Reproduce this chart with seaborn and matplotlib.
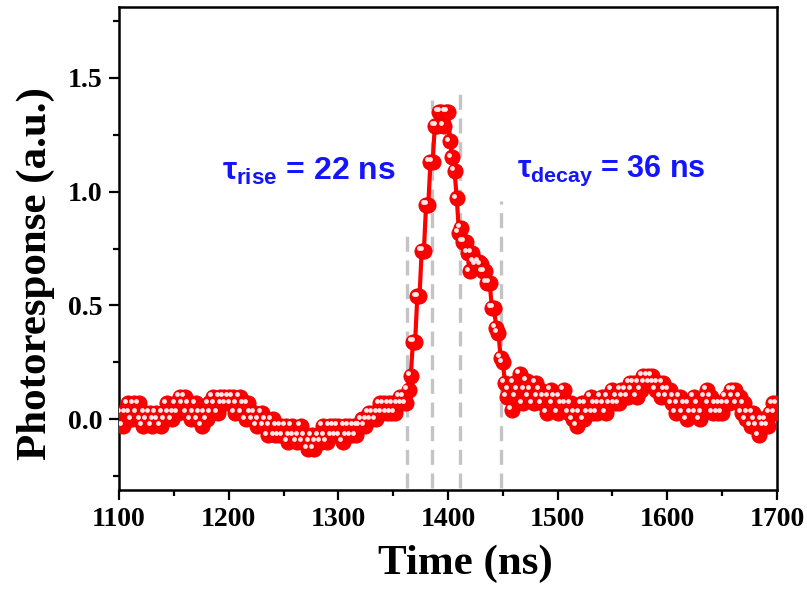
import numpy as np
import pandas as pd
import matplotlib
matplotlib.use("Agg")
import matplotlib.pyplot as plt
from matplotlib.transforms import offset_copy
import seaborn as sns

# Photoresponse trace, sampled every 2 ns; each block covers 50 ns starting at its label
seg_1100 = [0.00, 0.03, -0.03, 0.03, 0.07, 0.03, 0.00, 0.07, 0.03, 0.07, 0.00, -0.03, 0.03,
            0.00, 0.03, -0.03, 0.00, 0.03, 0.00, -0.03, 0.03, 0.00, 0.07, 0.03, 0.00]
seg_1150 = [0.03, 0.07, 0.03, 0.10, 0.07, 0.10, 0.03, 0.07, 0.00, 0.03, 0.07, 0.00, 0.03,
            -0.03, 0.03, 0.00, 0.07, 0.03, 0.10, 0.07, 0.03, 0.10, 0.07, 0.10, 0.07]
seg_1200 = [0.10, 0.07, 0.10, 0.03, 0.07, 0.10, 0.03, 0.07, 0.00, 0.07, 0.03, 0.00, 0.03,
            -0.03, 0.00, 0.03, -0.03, 0.00, -0.07, -0.03, 0.00, -0.07, -0.03, -0.07, -0.03]
seg_1250 = [-0.07, -0.03, -0.10, -0.07, -0.03, -0.07, -0.10, -0.07, -0.03, -0.10, -0.07, -0.13,
            -0.10, -0.07, -0.13, -0.10, -0.07, -0.10, -0.03, -0.07, -0.10, -0.03, -0.07, -0.03, -0.07]
seg_1300 = [-0.03, -0.07, -0.10, -0.03, -0.07, -0.03, -0.07, -0.03, -0.07, -0.03, -0.03, 0.00,
            -0.03, 0.00, 0.03, 0.00, 0.03, 0.00, 0.03, 0.07, 0.03, 0.07, 0.03, 0.07, 0.03]
seg_1350 = [0.07, 0.03, 0.07, 0.10, 0.07, 0.10, 0.07, 0.13, 0.19, 0.34, 0.34, 0.54, 0.54,
            0.74, 0.74, 0.94, 0.94, 1.13, 1.13, 1.29, 1.29, 1.35, 1.35, 1.29, 1.35]
seg_1400 = [1.35, 1.22, 1.15, 1.09, 0.97, 0.82, 0.84, 0.78, 0.78, 0.73, 0.65, 0.73, 0.69,
            0.68, 0.69, 0.68, 0.65, 0.65, 0.60, 0.60, 0.49, 0.49, 0.40, 0.38, 0.27]
seg_1450 = [0.25, 0.16, 0.10, 0.13, 0.04, 0.16, 0.10, 0.13, 0.20, 0.07, 0.13, 0.17, 0.10,
            0.13, 0.07, 0.16, 0.10, 0.13, 0.07, 0.10, 0.03, 0.10, 0.13, 0.07, 0.10]
seg_1500 = [0.03, 0.10, 0.07, 0.13, 0.07, 0.03, 0.07, 0.00, 0.03, -0.03, 0.03, 0.07, 0.00,
            0.07, 0.03, 0.10, 0.03, 0.07, 0.03, 0.07, 0.10, 0.07, 0.03, 0.10, 0.07]
seg_1550 = [0.13, 0.07, 0.10, 0.07, 0.13, 0.10, 0.13, 0.10, 0.16, 0.13, 0.16, 0.10, 0.16,
            0.13, 0.19, 0.16, 0.19, 0.16, 0.19, 0.16, 0.13, 0.16, 0.10, 0.16, 0.13]
seg_1600 = [0.10, 0.13, 0.07, 0.10, 0.03, 0.07, 0.10, 0.03, 0.07, 0.00, 0.07, 0.03, 0.10,
            0.03, 0.07, 0.00, 0.03, 0.10, 0.13, 0.07, 0.10, 0.03, 0.07, 0.03, 0.07]
seg_1650 = [0.03, 0.07, 0.10, 0.07, 0.13, 0.10, 0.13, 0.07, 0.10, 0.03, 0.07, 0.00, 0.03,
            -0.03, 0.03, 0.00, -0.03, -0.07, 0.00, -0.03, 0.00, -0.03, 0.03, 0.07, 0.03]
seg_1700 = [0.07]

segments = {1100: seg_1100, 1150: seg_1150, 1200: seg_1200, 1250: seg_1250,
            1300: seg_1300, 1350: seg_1350, 1400: seg_1400, 1450: seg_1450,
            1500: seg_1500, 1550: seg_1550, 1600: seg_1600, 1650: seg_1650,
            1700: seg_1700}
SAMPLE_NS = 2

# Time markers bounding the rise and decay intervals, with the height each reaches
marker_times = [1363, 1385, 1411, 1448]
marker_tops = [0.82, 1.40, 1.43, 0.96]

rise_label = r"$\tau_{\mathrm{rise}}$ = 22 ns"
decay_label = r"$\tau_{\mathrm{decay}}$ = 36 ns"

x_ticks = [1100, 1200, 1300, 1400, 1500, 1600, 1700]
y_ticks = [0.0, 0.5, 1.0, 1.5]

rows = []
for start, vals in segments.items():
    for i, v in enumerate(vals):
        rows.append((start + SAMPLE_NS * i, v))
df = pd.DataFrame(rows, columns=["time", "resp"])

sns.set_style("ticks")
plt.rcParams["font.family"] = ["Liberation Serif", "DejaVu Serif"]
plt.rcParams["font.weight"] = "bold"
plt.rcParams["text.color"] = "black"
plt.rcParams["axes.labelcolor"] = "black"
plt.rcParams["xtick.color"] = "black"
plt.rcParams["ytick.color"] = "black"
plt.rcParams["mathtext.fontset"] = "custom"
plt.rcParams["mathtext.rm"] = "Liberation Sans:bold"
plt.rcParams["mathtext.it"] = "Liberation Sans:bold"
plt.rcParams["mathtext.bf"] = "Liberation Sans:bold"

fig = plt.figure(figsize=(8.07, 5.90), dpi=100)
ax = fig.add_axes([0.1475, 0.1695, 0.8153, 0.8185])

# vertical dashed guides
for t, top in zip(marker_times, marker_tops):
    ax.plot([t, t], [-0.30, top], color="#c4c4c4", lw=2.4,
            dashes=(4.5, 2.6), zorder=1, solid_capstyle="butt")

red = "#ff0000"
sns.lineplot(data=df, x="time", y="resp", ax=ax, color=red, lw=3.0,
             zorder=2, estimator=None, sort=False)
sns.scatterplot(data=df, x="time", y="resp", ax=ax, color=red, s=120,
                edgecolor="#e80000", linewidth=0.6, zorder=3)
# specular highlight on each sphere
hl = offset_copy(ax.transData, fig=fig, x=-2.2, y=2.0, units="points")
ax.scatter(df["time"], df["resp"], s=12, color="#ffe8e8", linewidths=0,
           transform=hl, zorder=4)

ax.text(1194, 1.09, rise_label, color="#1414ff", fontsize=23,
        ha="left", va="center", family="Liberation Sans", weight="bold")
ax.text(1463, 1.09, decay_label, color="#1414ff", fontsize=22,
        ha="left", va="center", family="Liberation Sans", weight="bold")

ax.set_xlim(1100, 1700)
ax.set_ylim(-0.31, 1.81)
ax.set_xticks(x_ticks)
ax.set_yticks(y_ticks)
ax.set_xticks(np.arange(1150, 1700, 100), minor=True)
ax.set_yticks([-0.25, 0.25, 0.75, 1.25, 1.75], minor=True)
ax.set_xticklabels([str(t) for t in x_ticks])
ax.set_yticklabels([f"{v:.1f}" for v in y_ticks])

ax.tick_params(axis="both", which="major", direction="out", length=7,
               width=1.6, labelsize=20, pad=5)
ax.tick_params(axis="both", which="minor", direction="out", length=4, width=1.6)
for lab in ax.get_xticklabels() + ax.get_yticklabels():
    lab.set_fontweight("bold")
for sp in ax.spines.values():
    sp.set_visible(True)
    sp.set_linewidth(1.8)
    sp.set_color("black")

ax.set_xlabel("Time (ns)", fontsize=31, fontweight="bold")
ax.set_ylabel("Photoresponse (a.u.)", fontsize=31, fontweight="bold")
ax.xaxis.set_label_coords(0.526, -0.112)
ax.yaxis.set_label_coords(-0.097, 0.449)

fig.savefig("out.png", dpi=100)
